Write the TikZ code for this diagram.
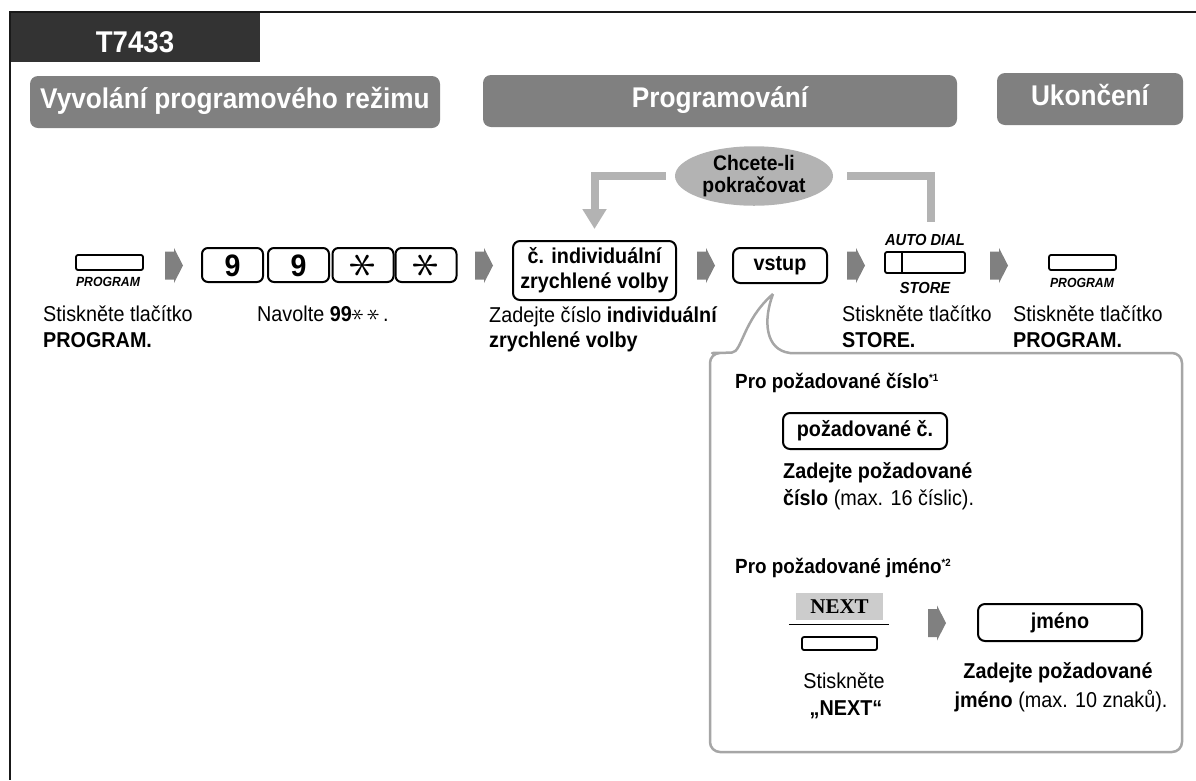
\documentclass[tikz,border=0pt]{standalone}
\usepackage{fontspec}
\usepackage{graphicx}
\setmainfont{Liberation Sans}[FakeStretch=0.92]
\newfontfamily\nextfont{Liberation Serif}
\usetikzlibrary{arrows.meta,shapes.geometric}
\definecolor{darkhdr}{HTML}{333333}
\definecolor{hdrgray}{HTML}{808080}
\definecolor{arrgray}{HTML}{808080}
\definecolor{ellgray}{HTML}{B3B3B3}
\definecolor{loopgray}{HTML}{B3B3B3}
\definecolor{callgray}{HTML}{A6A6A6}
\definecolor{nextgray}{HTML}{CCCCCC}
\newcommand\myfs[1]{\fontsize{#1}{#1}\selectfont}
\newcommand\kast[1]{{\fontsize{10}{12}\selectfont\rotatebox{90}{\scalebox{#1}{$\ast$}}}}
\begin{document}
\begin{tikzpicture}[x=1pt,y=-1pt,
  hdr/.style={fill=hdrgray, rounded corners=8pt, text=white, inner sep=0pt,
    font=\bfseries\myfs{28.5}, text height=19pt, text depth=6pt},
  keybox/.style={draw, line width=2pt, rounded corners=6pt, minimum width=61pt,
    minimum height=34pt, inner sep=0pt, font=\bfseries\myfs{31}},
  digit/.style={text height=22pt, text depth=0pt},
  entry/.style={draw, line width=2pt, rounded corners=7pt, inner sep=0pt,
    font=\bfseries\myfs{21.5}, align=center},
  btn/.style={draw, line width=1.8pt, rounded corners=2pt, inner sep=0pt},
  blabel/.style={font=\bfseries\itshape\myfs{13.3}, inner sep=0pt, text height=9.2pt, text depth=0pt},
  slabel/.style={font=\bfseries\itshape\myfs{16}, inner sep=0pt, text height=11pt, text depth=0pt},
  txt/.style={font=\myfs{21.5}, inner sep=0pt, anchor=base west},
  ctxt/.style={font=\myfs{21.5}, inner sep=0pt, anchor=base},
  ctitle/.style={font=\bfseries\myfs{20.5}, inner sep=0pt, anchor=base west},
  loopline/.style={draw=loopgray, line width=8pt},
  callout/.style={draw=callgray, fill=white, line width=2.5pt, line join=round},
  flowarr/.pic={\fill[arrgray] (0,-14) -- (9,-14) -- (9,-17.5) -- (18,0) -- (9,17.5) -- (9,14) -- (0,14) -- cycle;}
]
\useasboundingbox (0,0) rectangle (1196,780);

% frame and title tab
\fill[darkhdr] (10,12) rectangle (260,62);
\draw[line width=2.5pt, draw=black!90] (1196,12) -- (10,12) -- (10,780);
\node[text=white, font=\bfseries\myfs{30}, inner sep=0pt, anchor=base] (title) at (135,52) {T7433};

% section headers
\node[hdr, minimum width=410pt, minimum height=52pt] (h1) at (235,102) {Vyvolání programového režimu};
\node[hdr, minimum width=474pt, minimum height=52pt] (h2) at (720,101) {Programování};
\node[hdr, minimum width=186pt, minimum height=52pt] (h3) at (1090,99) {Ukončení};

% loop ellipse
\node[ellipse, fill=ellgray, minimum width=158pt, minimum height=58pt, inner sep=0pt,
  align=center, font=\bfseries\fontsize{21}{22.5}\selectfont] (ell) at (754,176) {Chcete-li\\pokračovat};

% button row
\node[btn, minimum width=67pt, minimum height=15pt] (prog1) at (109.5,262.5) {};
\node[blabel] (prog1l) at (108,281.5) {PROGRAM};
\pic at (165,265.5) {flowarr};
\node[keybox, digit] (k1) at (232.5,265) {9};
\node[keybox, digit] (k2) at (298.5,265) {9};
\node[keybox] (k3) at (363,265) {\kast{5.6}};
\node[keybox] (k4) at (426,265) {\kast{5.6}};
\pic at (475,265.5) {flowarr};
\node[entry, minimum width=163pt, minimum height=59pt, font=\bfseries\fontsize{21.5}{25}\selectfont] (ind) at (594.5,270.5) {č. individuální\\zrychlené volby};
\pic at (697,265.5) {flowarr};
\node[entry, minimum width=94pt, minimum height=35pt] (vstup) at (780,265.5) {vstup};
\pic at (847,265.5) {flowarr};
\node[btn, minimum width=80pt, minimum height=21pt] (store) at (925,262.5) {};
\draw[line width=1.8pt] ([xshift=18pt]store.north west) -- ([xshift=18pt]store.south west);
\node[slabel] (adial) at (925,239.5) {AUTO DIAL};
\node[slabel] (storel) at (925,287.5) {STORE};
\pic at (990,265.5) {flowarr};
\node[btn, minimum width=67pt, minimum height=15pt] (prog2) at (1082.5,262.5) {};
\node[blabel] (prog2l) at (1082,282.5) {PROGRAM};

% loop arrows
\coordinate (rloop) at (931,222);
\draw[loopline, -{Triangle[width=23pt,length=20pt]}] ([xshift=-9pt]ell.west) -| ([yshift=11pt]ind.north);
\draw[loopline] ([xshift=14pt]ell.east) -| (rloop);

% descriptions
\node[txt] (d1a) at (43,321) {Stiskněte tlačítko};
\node[txt, font=\bfseries\myfs{21.5}] (d1b) at (43,347) {PROGRAM.};
\node[txt] (d2a) at (257,321) {Navolte \textbf{99}\kast{2.6}\,\kast{2.6}\,.};
\node[txt] (d3a) at (489,322) {Zadejte číslo \textbf{individuální}};
\node[txt, font=\bfseries\myfs{21.5}] (d3b) at (489,347) {zrychlené volby};
\node[txt] (d4a) at (842,321) {Stiskněte tlačítko};
\node[txt, font=\bfseries\myfs{21.5}] (d4b) at (842,347) {STORE.};
\node[txt] (d5a) at (1013,321) {Stiskněte tlačítko};
\node[txt, font=\bfseries\myfs{21.5}] (d5b) at (1013,347) {PROGRAM.};

% callout
\coordinate (tip) at ([xshift=-7pt,yshift=-10pt]vstup.south);
\draw[callout] (tip) .. controls (763,320) and (765,350) .. (790,353)
  [rounded corners=10pt] -- (1182,353) -- (1182,752) -- (710,752) -- (710,353) -- (722,353)
  [sharp corners] .. controls (742,352) and (743,320) .. (tip);

\node[ctitle] (c1) at (735,388) {Pro požadované číslo\raisebox{7pt}{\myfs{10.5}*1}};
\node[entry, minimum width=164pt, minimum height=36pt] (req) at (865,431) {požadované č.};
\node[txt, font=\bfseries\myfs{21.5}] (c1a) at (783,478) {Zadejte požadované};
\node[txt] (c1b) at (783,505) {\textbf{číslo} (max. 16 číslic).};

\node[ctitle] (c2) at (735,573) {Pro požadované jméno\raisebox{7pt}{\myfs{10.5}*2}};
\node[fill=nextgray, minimum width=87pt, minimum height=27pt, inner sep=0pt,
  font=\nextfont\bfseries\myfs{21}] (nextlbl) at (839.5,606.5) {NEXT};
\draw[line width=1.2pt] ([xshift=-7pt,yshift=-4pt]nextlbl.south west) -- ([xshift=6pt,yshift=-4pt]nextlbl.south east);
\node[btn, minimum width=75pt, minimum height=13pt] (nextbtn) at (839.5,643.5) {};
\pic at (928,623) {flowarr};
\node[entry, minimum width=164pt, minimum height=37pt] (name) at (1060,622.5) {jméno};
\node[ctxt] (c2a) at (844,688) {Stiskněte};
\node[ctxt, font=\bfseries\myfs{21.5}] (c2b) at (846,715) {„NEXT“};
\node[ctxt, font=\bfseries\myfs{21.5}] (c2c) at (1058,678) {Zadejte požadované};
\node[ctxt] (c2d) at (1061,707) {\textbf{jméno} (max. 10 znaků).};
\end{tikzpicture}
\end{document}
